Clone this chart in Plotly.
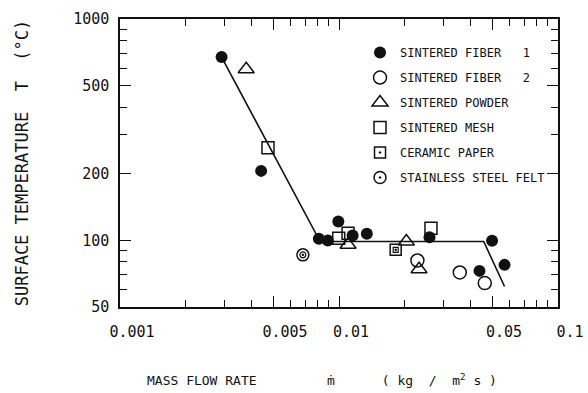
import plotly.graph_objects as go

NB = "\u00a0"

# ---- data ----
fiber1_x = [0.00291, 0.00441, 0.00809, 0.00889, 0.00993, 0.01154, 0.0134, 0.0259, 0.0500, 0.0570, 0.0438]
fiber1_y = [673, 206, 101.6, 99.9, 121.6, 105.1, 107, 103.4, 99.6, 77.5, 72.8]

fiber2_x = [0.0228, 0.0356, 0.0463]
fiber2_y = [81.1, 71.6, 64.1]

powder_x = [0.00377, 0.0110, 0.0203, 0.0232]
powder_y = [593, 95.5, 98.8, 74.1]

mesh_x = [0.00474, 0.00997, 0.0110, 0.0263]
mesh_y = [262, 102.3, 107.8, 113.5]

ceramic_x = [0.01815]
ceramic_y = [90.6]

felt_x = [0.00684]
felt_y = [86]

line_x = [0.00291, 0.0082, 0.0458, 0.057]
line_y = [673, 98.8, 98.8, 61.9]

x_tickvals = [0.001, 0.005, 0.01, 0.05, 0.1]
x_ticktext = ["0.001", "0.005", "0.01", "0.05", "0.1"]
x_minor = [0.002, 0.003, 0.004, 0.006, 0.007, 0.008, 0.009,
           0.02, 0.03, 0.04, 0.06, 0.07, 0.08, 0.09]
y_tickvals = [50, 100, 200, 500, 1000]
y_ticktext = ["50", "100", "200", "500", "1000"]
y_minor = [60, 70, 80, 90, 300, 400, 600, 700, 800, 900]

legend_names = [
    "SINTERED FIBER" + NB * 3 + "1",
    "SINTERED FIBER" + NB * 3 + "2",
    "SINTERED POWDER",
    "SINTERED MESH",
    "CERAMIC PAPER",
    "STAINLESS STEEL FELT",
]

x_title = ("MASS FLOW RATE" + NB * 9 + "\u1e41" + NB * 6 + "(" + NB + "kg" + NB * 2 + "/" + NB * 2
           + "m<sup>2</sup>" + NB + "s" + NB + ")")
y_title = "SURFACE TEMPERATURE" + NB * 2 + "T" + NB * 2 + "(°C)"

FONT = "DejaVu Sans Mono"
BLACK = "#111111"

fig = go.Figure()

fig.add_trace(go.Scatter(x=line_x, y=line_y, mode="lines",
                         line=dict(color=BLACK, width=1.6), showlegend=False,
                         hoverinfo="skip"))

open_line = dict(color=BLACK, width=1.5)

fig.add_trace(go.Scatter(x=fiber1_x, y=fiber1_y, mode="markers", name=legend_names[0],
                         legendgroup="g1",
                         marker=dict(symbol="circle", size=12, color=BLACK,
                                     line=dict(color=BLACK, width=0))))
fig.add_trace(go.Scatter(x=fiber2_x, y=fiber2_y, mode="markers", name=legend_names[1],
                         legendgroup="g2",
                         marker=dict(symbol="circle-open", size=13, color=BLACK, line=open_line)))
fig.add_trace(go.Scatter(x=powder_x, y=powder_y, mode="markers", name=legend_names[2],
                         legendgroup="g3",
                         marker=dict(symbol="triangle-up-open", size=14, color=BLACK, line=open_line)))
fig.add_trace(go.Scatter(x=mesh_x, y=mesh_y, mode="markers", name=legend_names[3],
                         legendgroup="g4",
                         marker=dict(symbol="square-open", size=12, color=BLACK, line=open_line)))
fig.add_trace(go.Scatter(x=ceramic_x, y=ceramic_y, mode="markers", name=legend_names[4],
                         legendgroup="g5",
                         marker=dict(symbol="square-open-dot", size=11, color=BLACK, line=open_line)))
fig.add_trace(go.Scatter(x=ceramic_x, y=ceramic_y, mode="markers", showlegend=False,
                         legendgroup="g5",
                         marker=dict(symbol="square-open", size=5, color=BLACK,
                                     line=dict(color=BLACK, width=1.2))))
fig.add_trace(go.Scatter(x=felt_x, y=felt_y, mode="markers", name=legend_names[5],
                         legendgroup="g6",
                         marker=dict(symbol="circle-open-dot", size=12, color=BLACK, line=open_line)))
fig.add_trace(go.Scatter(x=felt_x, y=felt_y, mode="markers", showlegend=False,
                         legendgroup="g6",
                         marker=dict(symbol="circle-open", size=6, color=BLACK,
                                     line=dict(color=BLACK, width=1.2))))

axis_common = dict(
    showline=True, linecolor=BLACK, linewidth=1.5, mirror="ticks",
    ticks="inside", tickcolor=BLACK, tickwidth=1.2, ticklen=11,
    showgrid=False, zeroline=False,
    tickfont=dict(family=FONT, size=15, color=BLACK),
)

fig.update_xaxes(
    type="log", range=[-3, -1],
    tickmode="array", tickvals=x_tickvals, ticktext=x_ticktext,
    minor=dict(tickmode="array", tickvals=x_minor, ticks="inside", ticklen=7,
               tickcolor=BLACK, tickwidth=1.1, showgrid=False),
    ticklabelshift=12, ticklabelstandoff=10,
    **axis_common,
)
fig.update_yaxes(
    type="log", range=[1.69897, 3],
    tickmode="array", tickvals=y_tickvals, ticktext=y_ticktext,
    minor=dict(tickmode="array", tickvals=y_minor, ticks="inside", ticklen=7,
               tickcolor=BLACK, tickwidth=1.1, showgrid=False),
    ticklabelstandoff=6,
    title=dict(text=y_title, font=dict(family=FONT, size=17, color=BLACK), standoff=40),
    **axis_common,
)

# x-axis title, left-aligned as in the original figure
fig.add_annotation(text=x_title, xref="paper", yref="paper",
                   x=25 / 438, y=-73 / 288, xanchor="left", yanchor="middle",
                   showarrow=False, font=dict(family=FONT, size=13, color=BLACK))

fig.update_layout(
    width=588, height=393,
    margin=dict(l=120, r=30, t=19, b=86, autoexpand=False),
    paper_bgcolor="white", plot_bgcolor="white",
    legend=dict(x=0.548, y=0.934, xanchor="left", yanchor="top",
                font=dict(family=FONT, size=12, color=BLACK),
                bgcolor="rgba(0,0,0,0)", borderwidth=0,
                traceorder="grouped", tracegroupgap=6, itemwidth=30),
)

fig.write_html("out.html")
